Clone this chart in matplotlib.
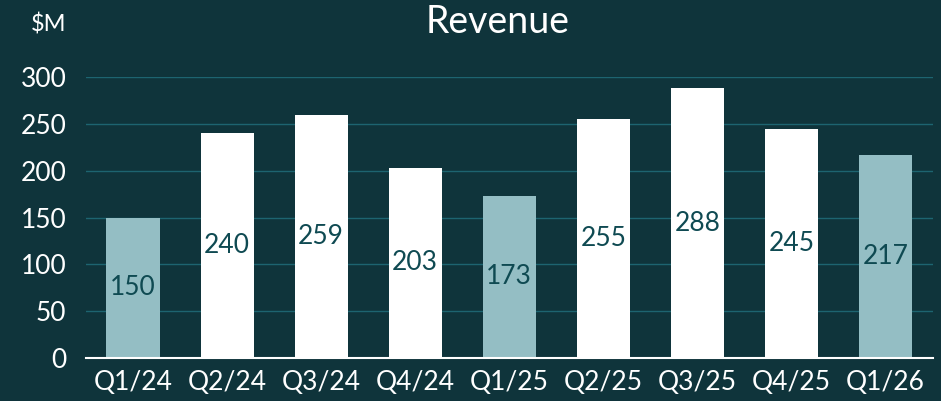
import numpy as np
import matplotlib.pyplot as plt

# -----------------------------
# Data
# -----------------------------
quarters = ["Q1/24", "Q2/24", "Q3/24", "Q4/24", "Q1/25",
            "Q2/25", "Q3/25", "Q4/25", "Q1/26"]
revenue = [150, 240, 259, 203, 173, 255, 288, 245, 217]
is_q1 = [True, False, False, False, True, False, False, False, True]
y_ticks = [0, 50, 100, 150, 200, 250, 300]

# -----------------------------
# Style
# -----------------------------
BG = "#0f343b"
GRID = "#1d6470"
WHITE = "#ffffff"
LIGHT = "#94bec4"
LABEL = "#0f4a52"
plt.rcParams['font.family'] = ['Lato', 'DejaVu Sans']

fig = plt.figure(figsize=(9.41, 4.01), dpi=100, facecolor=BG)
ax = fig.add_axes([86 / 941, 43 / 401, (932.5 - 86) / 941, (358 - 77) / 401])
ax.set_facecolor(BG)

x = np.arange(len(quarters))
colors = [LIGHT if q else WHITE for q in is_q1]
ax.bar(x, revenue, width=0.565, color=colors, zorder=2)

for xi, v in zip(x, revenue):
    ax.text(xi, v / 2, str(v), ha="center", va="center",
            fontsize=19, color=LABEL, zorder=3)

ax.set_xlim(-0.5, len(quarters) - 0.5)
ax.set_ylim(0, 300)
ax.set_yticks(y_ticks)
ax.set_xticks(x)
ax.set_xticklabels(quarters)
ax.tick_params(axis="both", length=0, colors=WHITE, labelsize=19)
ax.tick_params(axis="y", pad=14)
ax.tick_params(axis="x", pad=9)

ax.grid(axis="y", color=GRID, linewidth=1.0, zorder=0)
ax.set_axisbelow(True)
for side in ["top", "right", "left"]:
    ax.spines[side].set_visible(False)
ax.spines["bottom"].set_color(WHITE)
ax.spines["bottom"].set_linewidth(1.5)
ax.spines["bottom"].set_zorder(4)

fig.text(498 / 941, 1 - 22 / 401, "Revenue", ha="center", va="center",
         fontsize=27, color=WHITE)
fig.text(66 / 941, 1 - 25 / 401, "$M", ha="right", va="center",
         fontsize=17, color=WHITE)

fig.savefig("out.png", dpi=100, facecolor=BG)
